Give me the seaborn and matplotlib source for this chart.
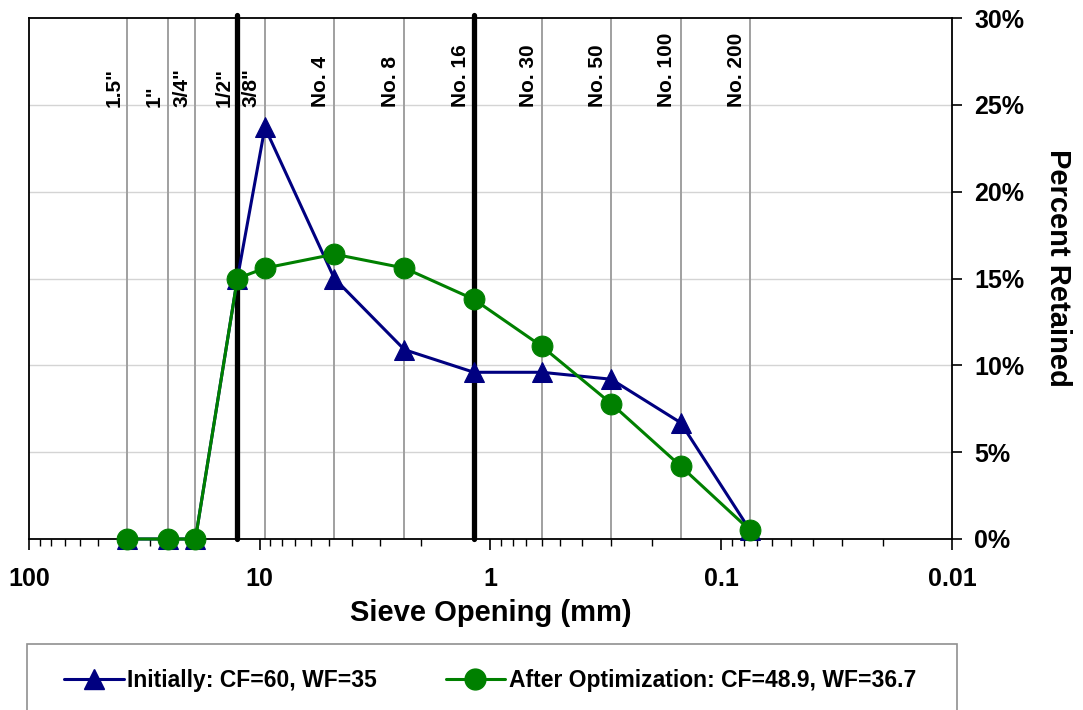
import matplotlib
matplotlib.use("Agg")
import matplotlib.pyplot as plt
import seaborn as sns
import numpy as np
import pandas as pd
from matplotlib.ticker import PercentFormatter, FixedLocator, LogLocator, NullFormatter, FixedFormatter
from matplotlib.patches import Rectangle
from matplotlib.lines import Line2D

# ---- data ----
sieve_sizes = [37.5, 25, 19, 12.5, 9.5, 4.75, 2.36, 1.18, 0.6, 0.3, 0.15, 0.075]
sieve_labels = ['1.5"', '1"', '3/4"', '1/2"', '3/8"', 'No. 4', 'No. 8', 'No. 16',
                'No. 30', 'No. 50', 'No. 100', 'No. 200']
initial = [0, 0, 0, 15.0, 23.7, 15.0, 10.9, 9.6, 9.6, 9.2, 6.7, 0.5]
optimized = [0, 0, 0, 15.0, 15.6, 16.4, 15.6, 13.8, 11.1, 7.8, 4.2, 0.5]
control_sieves = [12.5, 1.18]
x_ticks = [100, 10, 1, 0.1, 0.01]
x_tick_labels = ["100", "10", "1", "0.1", "0.01"]
y_ticks = [0, 5, 10, 15, 20, 25, 30]
label_initial = "Initially: CF=60, WF=35"
label_opt = "After Optimization: CF=48.9, WF=36.7"

sns.set_style("white")
plt.rcParams['font.family'] = ['Liberation Sans', 'DejaVu Sans']
plt.rcParams['font.weight'] = 'bold'
for k in ['text.color', 'axes.labelcolor', 'xtick.color', 'ytick.color']:
    plt.rcParams[k] = 'black'

W, H = 1083, 710
fig = plt.figure(figsize=(W / 100, H / 100), dpi=100)
L, R, T, B = 29, 952, 18, 539
ax = fig.add_axes([L / W, 1 - B / H, (R - L) / W, (B - T) / H])

ax.set_xscale('log')
ax.set_xlim(100, 0.01)
ax.set_ylim(0, 30)

# gridlines
for yv in y_ticks[1:-1]:
    ax.axhline(yv, color='#d4d4d4', lw=1.0, zorder=0)
for s in sieve_sizes:
    if s in control_sieves:
        ax.axvline(s, color='black', lw=3.8, zorder=1, clip_on=False, ymax=1.005)
    else:
        ax.axvline(s, color='#a0a0a0', lw=1.4, zorder=0.5)

# sieve labels
for s, lab in zip(sieve_sizes, sieve_labels):
    ax.annotate(lab, xy=(s, 24.85), xytext=(-3, 0), textcoords='offset points',
                rotation=90, ha='right', va='bottom', fontsize=15, fontweight='bold')

df_i = pd.DataFrame({"size": sieve_sizes, "pct": initial})
df_o = pd.DataFrame({"size": sieve_sizes, "pct": optimized})
sns.lineplot(data=df_i, x="size", y="pct", ax=ax, color='#000080', marker='^',
             markersize=15, markeredgecolor='#000080', lw=2.2, sort=False, zorder=3, clip_on=False)
sns.lineplot(data=df_o, x="size", y="pct", ax=ax, color='#008000', marker='o',
             markersize=15, markeredgecolor='#008000', lw=2.2, sort=False, zorder=4, clip_on=False)

# axes styling
for sp in ax.spines.values():
    sp.set_visible(True)
    sp.set_color('black')
    sp.set_linewidth(1.3)

ax.xaxis.set_major_locator(FixedLocator(x_ticks))
ax.xaxis.set_major_formatter(FixedFormatter(x_tick_labels))
ax.xaxis.set_minor_locator(LogLocator(base=10, subs=np.arange(2, 10)))
ax.xaxis.set_minor_formatter(NullFormatter())
ax.tick_params(axis='x', which='major', direction='out', length=8, width=1.2,
               labelsize=18, pad=12, bottom=True, top=False)
ax.tick_params(axis='x', which='minor', direction='out', length=5, width=1.0, bottom=True, top=False)
for t in ax.get_xticklabels():
    t.set_fontweight('bold')

ax.yaxis.tick_right()
ax.yaxis.set_label_position('right')
ax.set_yticks(y_ticks)
ax.yaxis.set_major_formatter(PercentFormatter(decimals=0))
ax.tick_params(axis='y', which='major', direction='out', length=7, width=1.2,
               labelsize=18, pad=9, right=True, left=False)
for t in ax.get_yticklabels():
    t.set_fontweight('bold')

ax.set_xlabel("Sieve Opening (mm)", fontsize=21, fontweight='bold', labelpad=6)
ax.set_ylabel("Percent Retained", fontsize=21, fontweight='bold', rotation=-90, labelpad=34)
ax.yaxis.label.set_y(0.52)

# legend box
fig.add_artist(Rectangle((27 / W, 1 - 740 / H), (957 - 27) / W, (740 - 644) / H,
                         transform=fig.transFigure, facecolor='white', edgecolor='#909090',
                         lw=1.2, clip_on=False))
handles = [Line2D([], [], color='#000080', marker='^', markersize=15, lw=2.2),
           Line2D([], [], color='#008000', marker='o', markersize=15, lw=2.2)]
fig.legend(handles, [label_initial, label_opt], loc='center left',
           bbox_to_anchor=(64 / W, 1 - 681 / H), ncol=2, frameon=False,
           prop={'weight': 'bold', 'size': 16.5}, handlelength=2.6, handletextpad=0.15,
           columnspacing=3.0, borderaxespad=0, borderpad=0)

fig.savefig("out.png", dpi=100)
